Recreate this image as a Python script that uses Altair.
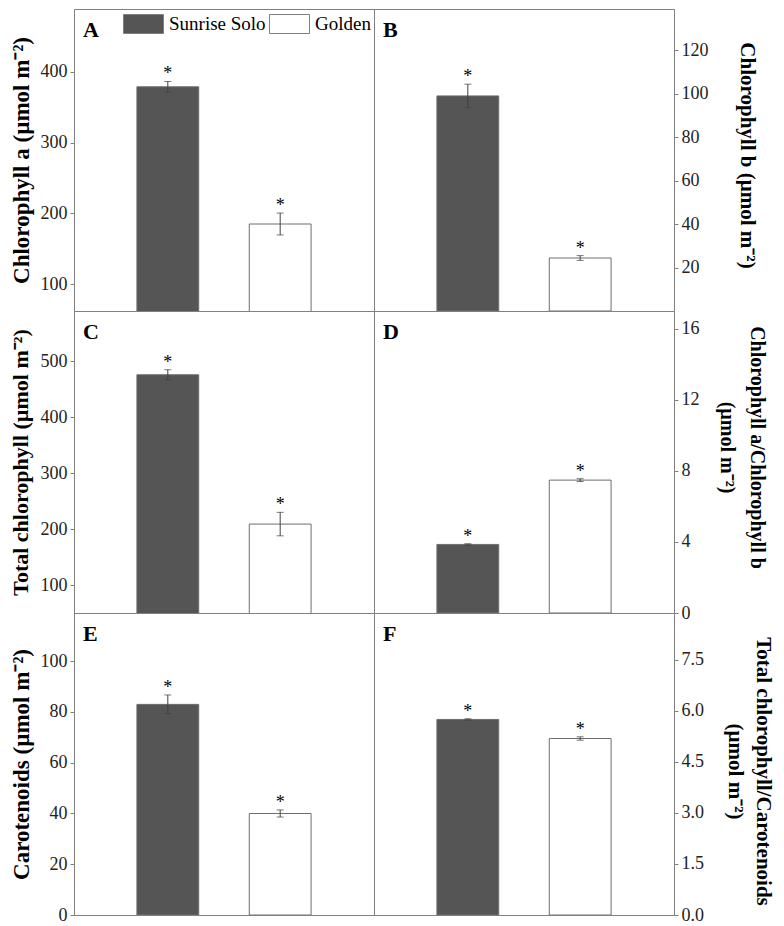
import altair as alt
import pandas as pd

FONT = "Liberation Serif"

cultivars = ["Sunrise Solo", "Golden"]
bar_colors = ["#555555", "#ffffff"]

chl_a = [379, 185]
chl_a_err = [7.5, 15.5]
chl_b = [99.0, 24.4]
chl_b_err = [5.4, 1.1]
total_chl = [476, 209]
total_chl_err = [9, 21]
ratio_ab = [3.86, 7.48]
ratio_ab_err = [0.04, 0.08]
carotenoids = [83, 40]
carotenoids_err = [3.7, 1.4]
ratio_tc = [5.75, 5.19]
ratio_tc_err = [0.02, 0.05]

ticks_a = [100, 200, 300, 400]
ticks_b = [20, 40, 60, 80, 100, 120]
ticks_c = [100, 200, 300, 400, 500]
ticks_d = [0, 4, 8, 12, 16]
ticks_e = [0, 20, 40, 60, 80, 100]
ticks_f = [0.0, 1.5, 3.0, 4.5, 6.0, 7.5]

W, H = 300, 302


def panel(vals, errs, letter, domain, ticks, fmt, orient, title, title_size,
          extent, tpad, line_h=None, title_y=None, legend=False):
    df = pd.DataFrame({
        "cultivar": cultivars,
        "value": vals,
        "lo": [v - e for v, e in zip(vals, errs)],
        "hi": [v + e for v, e in zip(vals, errs)],
    })
    x = alt.X("cultivar:N", sort=cultivars, axis=None,
              scale=alt.Scale(paddingInner=0.45, paddingOuter=0.56))
    ysc = alt.Scale(domain=domain, nice=False, zero=False)
    akw = dict(orient=orient, values=ticks, format=fmt, grid=False, domain=False,
               tickSize=4, tickColor="#808080", tickWidth=1,
               labelFont=FONT, labelFontSize=18, labelColor="#222222", labelPadding=3,
               minExtent=extent, maxExtent=extent,
               title=title, titleFont=FONT, titleFontSize=title_size,
               titleFontWeight="bold", titleColor="black", titlePadding=tpad)
    if line_h is not None:
        akw["titleLineHeight"] = line_h
    if title_y is not None:
        akw["titleY"] = title_y
    ax = alt.Axis(**akw)
    if legend:
        leg = alt.Legend(orient="none", legendX=59, legendY=4.5, direction="horizontal",
                         columns=2, title=None,
                         symbolType="M-2,-0.95H2V0.95H-2Z", symbolSize=400,
                         symbolStrokeColor="#808080", symbolStrokeWidth=1,
                         symbolOpacity=1,
                         labelFont=FONT, labelFontSize=19, labelColor="black",
                         labelOffset=15, columnPadding=1, padding=0)
    else:
        leg = None
    bars = alt.Chart(df).mark_bar(stroke="#6e6e6e", strokeWidth=1, clip=True, opacity=1).encode(
        x=x,
        y=alt.Y("value:Q", scale=ysc, axis=ax),
        fill=alt.Fill("cultivar:N", sort=cultivars,
                      scale=alt.Scale(domain=cultivars, range=bar_colors), legend=leg),
    )
    rule = alt.Chart(df).mark_rule(color="#404040", strokeWidth=1).encode(
        x=x, y=alt.Y("lo:Q", scale=ysc, axis=ax), y2="hi:Q")
    cap_lo = alt.Chart(df).mark_tick(color="#404040", thickness=1, size=7).encode(
        x=x, y=alt.Y("lo:Q", scale=ysc, axis=ax))
    cap_hi = alt.Chart(df).mark_tick(color="#404040", thickness=1, size=7).encode(
        x=x, y=alt.Y("hi:Q", scale=ysc, axis=ax))
    star = alt.Chart(df).mark_text(text="*", font=FONT, fontSize=18, color="black",
                                   baseline="alphabetic", dy=-2).encode(
        x=x, y=alt.Y("hi:Q", scale=ysc, axis=ax))
    lab = alt.Chart(pd.DataFrame({"letter": [letter]})).mark_text(
        font=FONT, fontSize=22, fontWeight="bold", color="black",
        align="left", baseline="alphabetic").encode(
        x=alt.value(9), y=alt.value(28), text="letter:N")
    return alt.layer(bars, rule, cap_lo, cap_hi, star, lab).properties(width=W, height=H)


A = panel(chl_a, chl_a_err, "A", [62, 489], ticks_a, "d", "left",
          "Chlorophyll a (µmol m⁻²)", 23, 34, 7, legend=True)
B = panel(chl_b, chl_b_err, "B", [0, 139], ticks_b, "d", "right",
          "Chlorophyll b (µmol m⁻²)", 21, 32, 30, title_y=146)
C = panel(total_chl, total_chl_err, "C", [50, 590], ticks_c, "d", "left",
          "Total chlorophyll (µmol m⁻²)", 22, 34, 8)
D = panel(ratio_ab, ratio_ab_err, "D", [0, 17], ticks_d, "d", "right",
          ["Chlorophyll a/Chlorophyll b", "(µmol m⁻²)"], 20, 32, 10, line_h=30,
          title_y=136)
E = panel(carotenoids, carotenoids_err, "E", [0, 119], ticks_e, "d", "left",
          "Carotenoids (µmol m⁻²)", 23, 34, 7)
F = panel(ratio_tc, ratio_tc_err, "F", [0, 8.88], ticks_f, ".1f", "right",
          ["Total chlorophyll/Carotenoids", "(µmol m⁻²)"], 21, 32, 18, line_h=28,
          title_y=158)

chart = alt.concat(A, B, C, D, E, F, columns=2, spacing=0, bounds="flush").resolve_scale(
    x="independent", y="independent", fill="independent"
).configure_view(stroke="#808080", strokeWidth=1).properties(padding=0, background="white")

chart.save("out.html", embed_options={"renderer": "svg", "actions": False})
